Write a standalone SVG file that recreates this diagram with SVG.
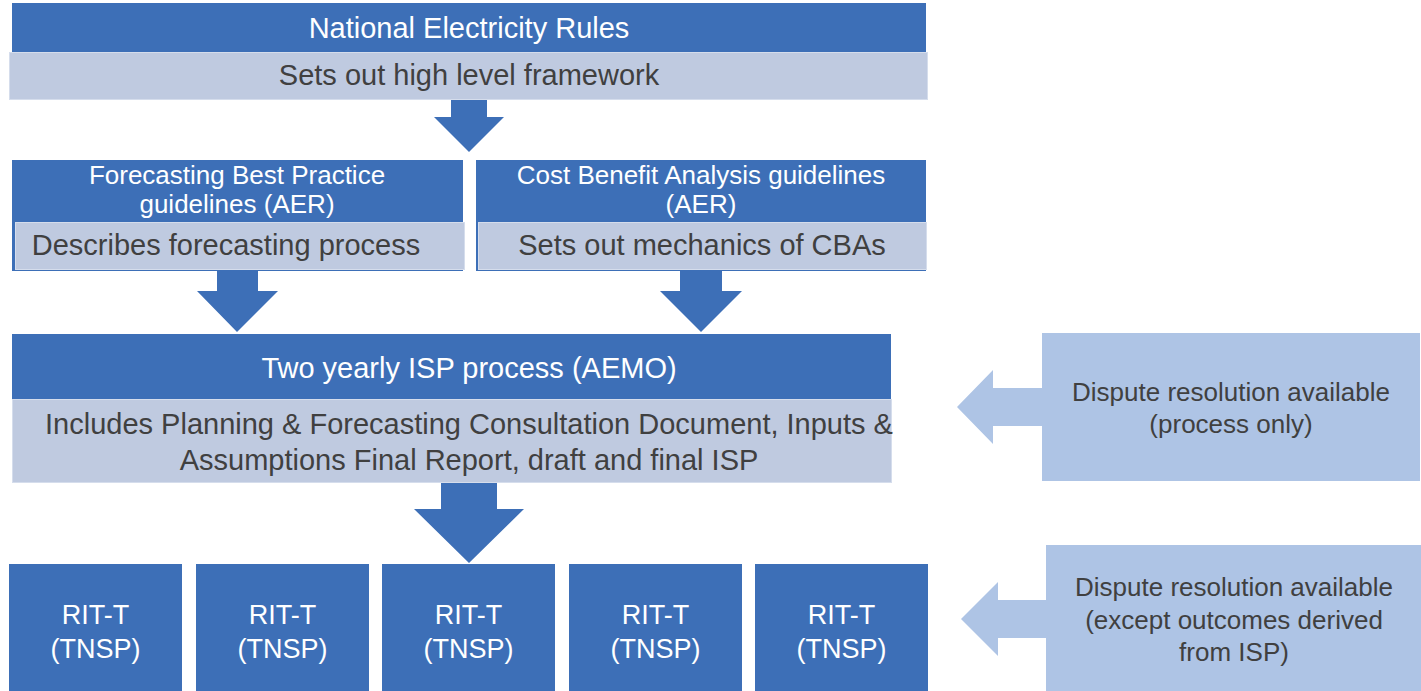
<svg xmlns="http://www.w3.org/2000/svg" width="1421" height="691" viewBox="0 0 1421 691">
<style>
.dk{fill:#3d6fb7}
.lt{fill:#bfcae0;stroke:#d5ddec;stroke-width:1}
.dp{fill:#aec4e5}
.ar{fill:#3d6fb7}
.al{fill:#aec4e5}
text{font-family:"Liberation Sans",Arial,sans-serif;text-anchor:middle}
.w{fill:#ffffff}
.g{fill:#404040}
.s29{font-size:29px}
.s26{font-size:26px}
.s27{font-size:27px}
</style>
<rect width="1421" height="691" fill="#ffffff"/>
<g id="connectors">
<polygon class="ar" points="451,100 487,100 487,117 504,117 469,152 434,117 451,117"/>
<polygon class="ar" points="217,271 258,271 258,291 278,291 237,332 197,291 217,291"/>
<polygon class="ar" points="680,271 722,271 722,291 742,291 701,332 660,291 680,291"/>
<polygon class="ar" points="441,483 497,483 497,509 524,509 469,563 414,509 441,509"/>
<polygon class="al" points="1042,388 993,388 993,370 957,407 993,444 993,426 1042,426"/>
<polygon class="al" points="1046,600 998,600 998,582 961,619 998,656 998,638 1046,638"/>
</g>
<g id="ner">
<rect class="dk" x="12" y="3" width="914" height="49"/>
<rect class="lt" x="9.5" y="52.5" width="918" height="47"/>
<text class="w s29" x="469" y="38">National Electricity Rules</text>
<text class="g s29" x="469" y="85">Sets out high level framework</text>
</g>
<g id="forecasting">
<rect class="dk" x="12" y="160" width="451" height="111"/>
<rect class="lt" x="15.5" y="222.5" width="449" height="47"/>
<text class="w s26" x="237" y="184">Forecasting Best Practice</text>
<text class="w s26" x="237" y="213">guidelines (AER)</text>
<text class="g s29" x="226" y="255">Describes forecasting process</text>
</g>
<g id="cba">
<rect class="dk" x="476" y="160" width="450" height="111"/>
<rect class="lt" x="478.5" y="222.5" width="448" height="47"/>
<text class="w s26" x="701" y="184">Cost Benefit Analysis guidelines</text>
<text class="w s26" x="701" y="213">(AER)</text>
<text class="g s29" x="702" y="255">Sets out mechanics of CBAs</text>
</g>
<g id="isp">
<rect class="dk" x="12" y="334" width="879" height="65"/>
<rect class="lt" x="12.5" y="399.5" width="879" height="83"/>
<text class="w s29" x="469" y="378">Two yearly ISP process (AEMO)</text>
<text class="g s29" x="469" y="434">Includes Planning &amp; Forecasting Consultation Document, Inputs &amp;</text>
<text class="g s29" x="469" y="470">Assumptions Final Report, draft and final ISP</text>
</g>
<g id="dispute1">
<rect class="dp" x="1042" y="333" width="378" height="148"/>
<text class="g s26" x="1231" y="401">Dispute resolution available</text>
<text class="g s26" x="1231" y="433">(process only)</text>
</g>
<g id="ritt1">
<rect class="dk" x="9" y="564" width="173" height="127"/>
<text class="w s27" x="95.5" y="624">RIT-T</text>
<text class="w s27" x="95.5" y="658">(TNSP)</text>
</g>
<g id="ritt2">
<rect class="dk" x="196" y="564" width="173" height="127"/>
<text class="w s27" x="282.5" y="624">RIT-T</text>
<text class="w s27" x="282.5" y="658">(TNSP)</text>
</g>
<g id="ritt3">
<rect class="dk" x="382" y="564" width="173" height="127"/>
<text class="w s27" x="468.5" y="624">RIT-T</text>
<text class="w s27" x="468.5" y="658">(TNSP)</text>
</g>
<g id="ritt4">
<rect class="dk" x="569" y="564" width="173" height="127"/>
<text class="w s27" x="655.5" y="624">RIT-T</text>
<text class="w s27" x="655.5" y="658">(TNSP)</text>
</g>
<g id="ritt5">
<rect class="dk" x="755" y="564" width="173" height="127"/>
<text class="w s27" x="841.5" y="624">RIT-T</text>
<text class="w s27" x="841.5" y="658">(TNSP)</text>
</g>
<g id="dispute2">
<rect class="dp" x="1046" y="545" width="375" height="146"/>
<text class="g s26" x="1234" y="596">Dispute resolution available</text>
<text class="g s26" x="1234" y="629">(except outcomes derived</text>
<text class="g s26" x="1234" y="661">from ISP)</text>
</g>
</svg>
